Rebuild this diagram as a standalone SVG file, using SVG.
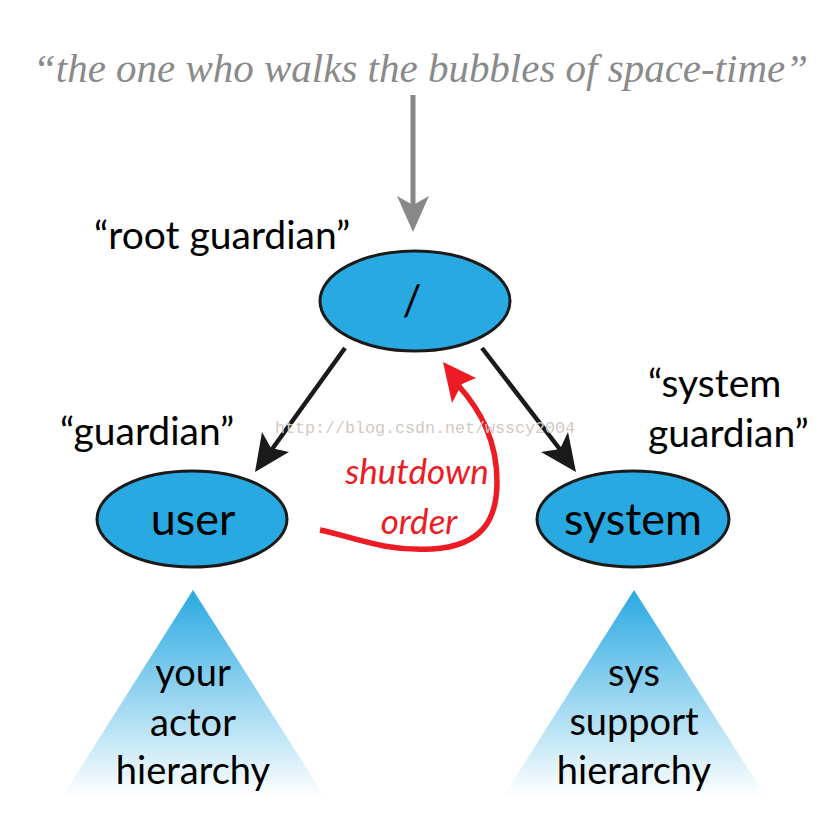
<svg xmlns="http://www.w3.org/2000/svg" width="833" height="833" viewBox="0 0 833 833">
<style>
.node{fill:#29a9e1;stroke:#1a1a1a;stroke-width:3}
.lbl{font-family:Lato,"Open Sans","Liberation Sans",sans-serif;fill:#000;text-anchor:middle}
.cap{font-family:Lato,"Open Sans","Liberation Sans",sans-serif;fill:#000;font-size:39px}
.red{font-family:Lato,"Open Sans","Liberation Sans",sans-serif;fill:#ed1c24;font-style:italic;font-size:35px;text-anchor:middle}
</style>
<defs>
<linearGradient id="tri" x1="0" y1="0" x2="0" y2="1">
<stop offset="0" stop-color="#29a9e1"/>
<stop offset="1" stop-color="#ffffff"/>
</linearGradient>
</defs>
<rect width="833" height="833" fill="#fff"/>
<text x="33" y="82" font-family="'Liberation Serif',serif" font-style="italic" font-size="40" fill="#8a8a8a" textLength="775" lengthAdjust="spacingAndGlyphs">“the one who walks the bubbles of space-time”</text>
<g id="triangles">
<polygon id="tri-user" points="193,590 325,797 62,797" fill="url(#tri)"/>
<polygon id="tri-system" points="634,590 766,797 503,797" fill="url(#tri)"/>
</g>
<g id="connectors">
<line x1="413" y1="95" x2="413" y2="210" stroke="#888" stroke-width="5"/>
<path d="M413,232 L397,196 L413,205 L429,196 Z" fill="#888"/>
<line x1="345" y1="348" x2="270" y2="452" stroke="#1a1a1a" stroke-width="4.5"/>
<path d="M255,472 L262,432 L271,448 L289,452 Z" fill="#1a1a1a"/>
<line x1="482" y1="348" x2="562" y2="452" stroke="#1a1a1a" stroke-width="4.5"/>
<path d="M576,472 L541,452 L560,449 L568,432 Z" fill="#1a1a1a"/>
<path d="M320,530 C350,536 385,552 432,549 C482,546 497,520 497,482 C497,442 482,412 458,385" fill="none" stroke="#ed1c24" stroke-width="5.5"/>
<path d="M443,362 L476,378 L462,384 L452,403 Z" fill="#ed1c24"/>
</g>
<g id="node-root">
<ellipse class="node" cx="415" cy="301" rx="95" ry="50"/>
<text class="lbl" x="412" y="315" font-size="42">/</text>
</g>
<g id="node-user">
<ellipse class="node" cx="192" cy="519" rx="95" ry="48"/>
<text class="lbl" x="193" y="535" font-size="45">user</text>
</g>
<g id="node-system">
<ellipse class="node" cx="633" cy="519" rx="96" ry="48"/>
<text class="lbl" x="633" y="535" font-size="45">system</text>
</g>
<text class="cap" x="94" y="249">“root guardian”</text>
<text class="cap" x="60" y="445">“guardian”</text>
<text class="cap" x="648" y="397">“system</text>
<text class="cap" x="648" y="447">guardian”</text>
<text class="red" x="417" y="484">shutdown</text>
<text class="red" x="419" y="534">order</text>
<g id="tri-text">
<text class="lbl" x="193" y="686" font-size="38">your</text>
<text class="lbl" x="193" y="736" font-size="38">actor</text>
<text class="lbl" x="193" y="784" font-size="38">hierarchy</text>
<text class="lbl" x="634" y="686" font-size="38">sys</text>
<text class="lbl" x="634" y="735" font-size="38">support</text>
<text class="lbl" x="634" y="784" font-size="38">hierarchy</text>
</g>
<text x="275" y="433" font-family="'Liberation Mono','DejaVu Sans Mono',monospace" font-size="17" fill="#cfcac2" textLength="300" lengthAdjust="spacingAndGlyphs">http://blog.csdn.net/wsscy2004</text>
</svg>
